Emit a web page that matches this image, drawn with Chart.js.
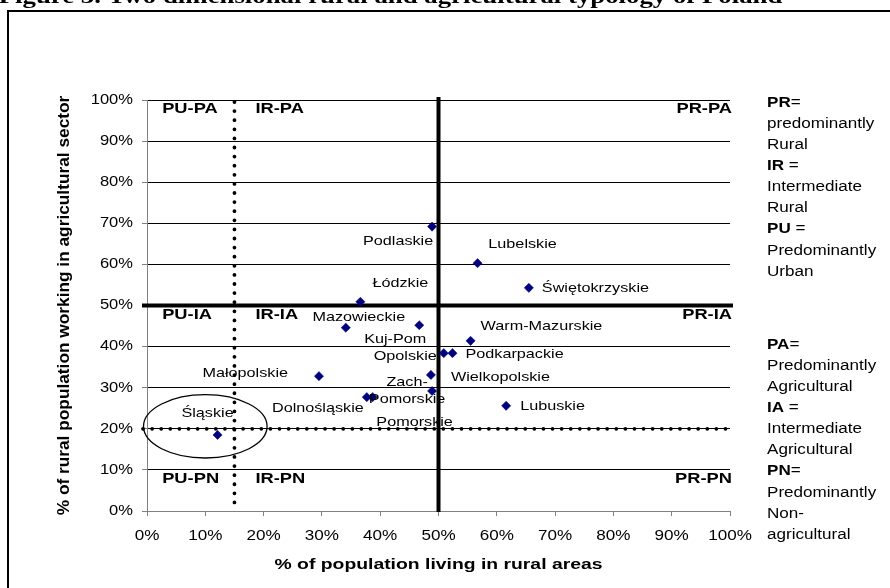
<!DOCTYPE html>
<html><head><meta charset="utf-8">
<script src="https://cdn.jsdelivr.net/npm/chart.js@4"></script>
<style>html,body{margin:0;padding:0;background:#fff;}canvas{display:block;}</style>
</head><body>
<canvas id="c" width="890" height="588"></canvas>
<script>
// ---------- data ----------
const regions = ['Podlaskie','Lubelskie','Świętokrzyskie','Łódzkie','Mazowieckie','Kuj-Pom','Warm-Mazurskie','Opolskie','Podkarpackie','Małopolskie','Wielkopolskie','Zach-\nPomorskie','Dolnośląskie','Pomorskie','Lubuskie','Śląskie'];
const ruralPopShare = [48.9,56.7,65.5,36.6,34.1,46.7,55.5,50.9,52.4,29.5,48.7,48.9,37.7,38.7,61.6,12.1];
const agriWorkShare = [69.2,60.3,54.3,50.9,44.6,45.2,41.4,38.4,38.4,32.8,33.1,29.2,27.7,27.7,25.6,18.5];
const tickLabels = ['0%','10%','20%','30%','40%','50%','60%','70%','80%','90%','100%'];
const ruralThresholds = [15, 50];   // IR / PR boundaries (% rural population)
const agriThresholds = [20, 50];    // IA / PA boundaries (% working in agriculture)
const ruralClasses = ['PU','IR','PR'];
const agriClasses = ['PA','IA','PN'];
const legendGroup1 = [['PR','=',true],['predominantly','',false],['Rural','',false],['IR',' =',true],['Intermediate','',false],['Rural','',false],['PU',' =',true],['Predominantly','',false],['Urban','',false]];
const legendGroup2 = [['PA','=',true],['Predominantly','',false],['Agricultural','',false],['IA',' =',true],['Intermediate','',false],['Agricultural','',false],['PN','=',true],['Predominantly','',false],['Non-','',false],['agricultural','',false]];
const titleText = 'Figure 3. Two dimensional rural and agricultural typology of Poland';
const xTitle = '% of population living in rural areas';
const yTitle = '% of rural population working in agricultural sector';

// ---------- layout (label offsets in px from each point) ----------
const labelOffsets = [[-34,15,'center'],[45,-19,'center'],[13,0,'left'],[40,-19,'center'],[13,-10,'center'],[-24,14,'center'],[10,-15,'left'],[-7,3,'right'],[13,1,'left'],[-31,-3,'right'],[20,2,'left'],[-25,0,'center'],[-3,11,'right'],[42,25,'center'],[14,0,'left'],[-10,-22,'center']];

const SANS = "'Liberation Sans', Arial, sans-serif";
function txt(ctx, s, x, y, font, align, sx, baseline) {
  ctx.save();
  ctx.font = font;
  ctx.fillStyle = '#000';
  ctx.textAlign = align || 'left';
  ctx.textBaseline = baseline || 'middle';
  ctx.translate(x, y);
  ctx.scale(sx || 1, 1);
  ctx.fillText(s, 0, 0);
  ctx.restore();
}

const overlay = {
  id: 'overlay',
  beforeDraw(chart) {
    const ctx = chart.ctx;
    ctx.save(); ctx.fillStyle = '#fff'; ctx.fillRect(0, 0, chart.width, chart.height); ctx.restore();
  },
  beforeDatasetsDraw(chart) {
    const {ctx, scales: {x, y}} = chart;
    ctx.save();
    ctx.strokeStyle = '#000';
    // dotted thresholds
    ctx.lineCap = 'round'; ctx.lineWidth = 3.8; ctx.setLineDash([0.001, 9.1]);
    const xd = x.getPixelForValue(ruralThresholds[0]);
    ctx.beginPath(); ctx.moveTo(xd, y.getPixelForValue(100) + 2); ctx.lineTo(xd, y.getPixelForValue(0)); ctx.stroke();
    const yd = y.getPixelForValue(agriThresholds[0]);
    ctx.beginPath(); ctx.moveTo(x.getPixelForValue(0) - 4, yd); ctx.lineTo(x.getPixelForValue(100) + 2, yd); ctx.stroke();
    // thick solid thresholds
    ctx.setLineDash([]); ctx.lineCap = 'butt'; ctx.lineWidth = 4;
    const xs = x.getPixelForValue(ruralThresholds[1]);
    ctx.beginPath(); ctx.moveTo(xs, y.getPixelForValue(100) - 3); ctx.lineTo(xs, y.getPixelForValue(0) + 1); ctx.stroke();
    const ys = y.getPixelForValue(agriThresholds[1]);
    ctx.beginPath(); ctx.moveTo(x.getPixelForValue(0) - 5, ys); ctx.lineTo(x.getPixelForValue(100) + 3, ys); ctx.stroke();
    // ellipse around Śląskie
    const cx = x.getPixelForValue(10), cy = y.getPixelForValue(20.6);
    const rx = x.getPixelForValue(20.6) - cx, ry = cy - y.getPixelForValue(28.3);
    ctx.lineWidth = 1.3;
    ctx.beginPath(); ctx.ellipse(cx, cy, rx, ry, 0, 0, Math.PI * 2); ctx.stroke();
    ctx.restore();
  },
  afterDatasetsDraw(chart) {
    const {ctx, scales: {x, y}} = chart;
    const meta = chart.getDatasetMeta(0);
    // data labels
    meta.data.forEach((pt, i) => {
      const [dx, dy, al] = labelOffsets[i];
      const lines = regions[i].split('\n');
      lines.forEach((ln, k) => {
        const off = (k - (lines.length - 1) / 2) * 17;
        txt(ctx, ln, pt.x + dx, pt.y + dy + off, '13.5px ' + SANS, al, 1.2);
      });
    });
    // quadrant labels
    const qf = 'bold 15px ' + SANS;
    const rowY = [y.getPixelForValue(97.8), y.getPixelForValue(47.7), y.getPixelForValue(7.8)];
    agriClasses.forEach((a, r) => {
      txt(ctx, ruralClasses[0] + '-' + a, x.getPixelForValue(2.6), rowY[r], qf, 'left', 1.22);
      txt(ctx, ruralClasses[1] + '-' + a, x.getPixelForValue(18.6), rowY[r], qf, 'left', 1.22);
      txt(ctx, ruralClasses[2] + '-' + a, x.getPixelForValue(100) + 2, rowY[r], qf, 'right', 1.22);
    });
    // tick labels
    const tf = '14px ' + SANS;
    x.ticks.forEach((t, i) => txt(ctx, t.label, x.getPixelForTick(i), x.bottom + 25, tf, 'center', 1.22));
    y.ticks.forEach((t, i) => txt(ctx, t.label, y.right - 14, y.getPixelForTick(i), tf, 'right', 1.18));
    // axis titles
    txt(ctx, xTitle, (x.left + x.right) / 2, x.bottom + 54, 'bold 15px ' + SANS, 'center', 1.29);
    ctx.save();
    ctx.translate(64.5, (y.top + y.bottom) / 2);
    ctx.rotate(-Math.PI / 2);
    txt(ctx, yTitle, 0, 0, 'bold 16px ' + SANS, 'center', 1.08);
    ctx.restore();
    // legend text
    const lx = 767;
    const lsx = 1.22;
    const drawGroup = (grp, y0) => grp.forEach(([a, b, bold], i) => {
      const yy = y0 + i * 21.1;
      if (bold) {
        ctx.save(); ctx.font = 'bold 14px ' + SANS; const w = ctx.measureText(a).width * lsx; ctx.restore();
        txt(ctx, a, lx, yy, 'bold 14px ' + SANS, 'left', lsx);
        txt(ctx, b, lx + w, yy, '14px ' + SANS, 'left', lsx);
      } else {
        txt(ctx, a + b, lx, yy, '14px ' + SANS, 'left', lsx);
      }
    });
    drawGroup(legendGroup1, 103);
    drawGroup(legendGroup2, 345);
    // document title (cut off at top)
    txt(ctx, titleText, -1.3, 2.5, "bold 20px 'Liberation Serif', 'Times New Roman', serif", 'left', 1.34, 'alphabetic');
    // outer frame
    ctx.save();
    ctx.strokeStyle = '#000'; ctx.lineWidth = 2;
    ctx.beginPath(); ctx.moveTo(8, chart.height); ctx.lineTo(8, 11); ctx.lineTo(chart.width, 11); ctx.stroke();
    ctx.restore();
  }
};

new Chart(document.getElementById('c'), {
  type: 'scatter',
  data: {
    datasets: [{
      data: ruralPopShare.map((v, i) => ({x: v, y: agriWorkShare[i]})),
      pointStyle: 'rectRot',
      pointRadius: 4.6,
      pointHoverRadius: 4.6,
      backgroundColor: '#000080',
      borderColor: '#000080',
      borderWidth: 0.5
    }]
  },
  options: {
    responsive: false,
    animation: false,
    devicePixelRatio: 1,
    layout: {padding: {left: 147, right: 160, top: 100, bottom: 77}},
    plugins: {legend: {display: false}, tooltip: {enabled: false}},
    scales: {
      x: {
        type: 'linear', min: 0, max: 100,
        ticks: {stepSize: 10, display: false, callback: (v, i) => tickLabels[i]},
        grid: {drawOnChartArea: false, drawTicks: true, tickLength: 5, tickColor: '#808080'},
        border: {color: '#808080', width: 1},
        afterFit: s => { s.height = 0; }
      },
      y: {
        type: 'linear', min: 0, max: 100,
        ticks: {stepSize: 10, display: false, callback: (v, i) => tickLabels[i]},
        grid: {color: '#000', lineWidth: 1, drawTicks: true, tickLength: 5, tickColor: '#808080'},
        border: {color: '#808080', width: 1},
        afterFit: s => { s.width = 0; }
      }
    }
  },
  plugins: [overlay]
});
</script>
</body></html>
